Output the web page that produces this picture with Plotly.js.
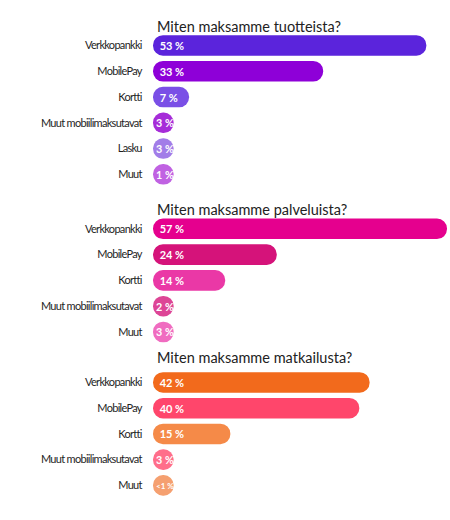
<!DOCTYPE html>
<html>
<head>
<meta charset="utf-8">
<script src="https://cdn.plot.ly/plotly-3.0.1.min.js"></script>
<style>
  html, body { margin: 0; padding: 0; background: #fff; }
  #chart { width: 450px; height: 520px; }
  .ytick text, .y2tick text, .y3tick text { letter-spacing: -0.7px; }
</style>
</head>
<body>
<div id="chart"></div>
<script>
// ---- Data ----
const titleGoods = "Miten maksamme tuotteista?";
const catsGoods = ["Verkkopankki", "MobilePay", "Kortti", "Muut mobiilimaksutavat", "Lasku", "Muut"];
const valsGoods = [53, 33, 7, 3, 3, 1];
const colorsGoods = ["#5b24dc", "#8e00d8", "#7a4fe6", "#a62cd8", "#a27de8", "#c062e2"];

const titleServices = "Miten maksamme palveluista?";
const catsServices = ["Verkkopankki", "MobilePay", "Kortti", "Muut mobiilimaksutavat", "Muut"];
const valsServices = [57, 24, 14, 2, 3];
const colorsServices = ["#e5008e", "#d5137a", "#ea38a6", "#dd4596", "#f06cc0"];

const titleTravel = "Miten maksamme matkailusta?";
const catsTravel = ["Verkkopankki", "MobilePay", "Kortti", "Muut mobiilimaksutavat", "Muut"];
const valsTravel = [42, 40, 15, 3, 0.5];
const colorsTravel = ["#f26a1c", "#ff466b", "#f58a48", "#ff6e8a", "#f5a070"];

// ---- Presentation ----
const MIN_LEN = 4.0;      // a pill is never shorter than a circle
const TEXT_MIN_LEN = 4.6; // room reserved for the label of a circle
const fmt = v => (v < 1 ? "<1 %" : v + " %");
const LABEL_FONT = "Lato, 'Open Sans', sans-serif";

function pillTrace(cats, vals, colors, yax) {
  return {
    type: "bar",
    orientation: "h",
    y: cats,
    x: vals.map(v => Math.max(v, MIN_LEN)),
    base: 0,
    xaxis: "x",
    yaxis: yax,
    customdata: vals,
    marker: { color: colors, cornerradius: "50%", line: { width: 0 } },
    hovertemplate: "%{y}: %{customdata} %<extra></extra>"
  };
}

function labelTrace(cats, vals, yax) {
  return {
    type: "bar",
    orientation: "h",
    y: cats,
    x: vals.map(v => Math.max(v, TEXT_MIN_LEN)),
    base: 0,
    xaxis: "x",
    yaxis: yax,
    text: vals.map(v => (v > MIN_LEN ? "\u2004" : "") + fmt(v)),
    textposition: "inside",
    insidetextanchor: "start",
    constraintext: "inside",
    textangle: 0,
    textfont: { family: LABEL_FONT, size: 11, color: "#ffffff", weight: 700 },
    marker: { color: "rgba(0,0,0,0)", line: { width: 0 } },
    hoverinfo: "skip"
  };
}

const data = [
  pillTrace(catsGoods, valsGoods, colorsGoods, "y"),
  pillTrace(catsServices, valsServices, colorsServices, "y2"),
  pillTrace(catsTravel, valsTravel, colorsTravel, "y3"),
  labelTrace(catsGoods, valsGoods, "y"),
  labelTrace(catsServices, valsServices, "y2"),
  labelTrace(catsTravel, valsTravel, "y3")
];

const yCommon = {
  type: "category",
  autorange: "reversed",
  showgrid: false,
  zeroline: false,
  showline: false,
  ticks: "outside",
  ticklen: 8,
  tickcolor: "rgba(0,0,0,0)",
  tickfont: { family: LABEL_FONT, size: 11, color: "#1e1e1e" },
  anchor: "x",
  fixedrange: true
};

const layout = {
  width: 450,
  height: 520,
  margin: { l: 153, r: 3, t: 0, b: 0 },
  paper_bgcolor: "#ffffff",
  plot_bgcolor: "#ffffff",
  showlegend: false,
  bargap: 0.2,
  barmode: "overlay",
  xaxis: { range: [0, 57], visible: false, fixedrange: true },
  yaxis: Object.assign({}, yCommon, { domain: [0.640, 0.9373] }),
  yaxis2: Object.assign({}, yCommon, { domain: [0.3367, 0.5848] }),
  yaxis3: Object.assign({}, yCommon, { domain: [0.0419, 0.2892] }),
  annotations: [
    { text: titleGoods, y: 0.95 },
    { text: titleServices, y: 0.598 },
    { text: titleTravel, y: 0.3125 }
  ].map(a => Object.assign({
    xref: "paper", yref: "paper", x: 0, xanchor: "left", yanchor: "middle",
    xshift: 2, showarrow: false,
    font: { family: LABEL_FONT, size: 14.5, color: "#222222" }
  }, a))
};

Plotly.newPlot("chart", data, layout, { displayModeBar: false, staticPlot: true });
</script>
</body>
</html>
